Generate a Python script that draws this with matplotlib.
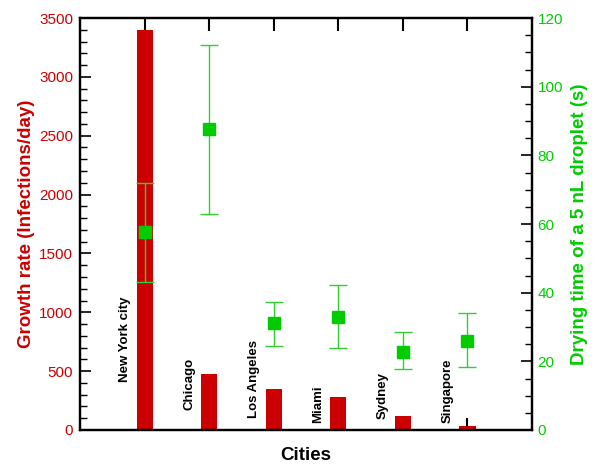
import matplotlib
matplotlib.use('Agg')
import matplotlib.pyplot as plt
import numpy as np
from matplotlib.ticker import MultipleLocator

plt.rcParams['font.family'] = ['Liberation Sans', 'DejaVu Sans']

cities = ['New York city', 'Chicago', 'Los Angeles', 'Miami', 'Sydney', 'Singapore']
growth = [3400, 478, 350, 282, 120, 35]
dry_time = [57.6, 87.6, 31.1, 32.8, 22.8, 26.0]
dry_low = [43.0, 63.0, 24.5, 23.8, 17.7, 18.4]
dry_high = [72.0, 112.0, 37.4, 42.1, 28.4, 34.0]
label_y = [408, 170, 102, 60, 93, 60]   # bottom of rotated city names (left axis units)

red = '#cc0000'
green = '#00cc00'

x = np.arange(1, len(cities) + 1)
dry_time = np.array(dry_time)
yerr = [dry_time - np.array(dry_low), np.array(dry_high) - dry_time]

fig = plt.figure(figsize=(5.98, 4.68), dpi=100)
ax = fig.add_axes([0.1338, 0.0812, 0.7559, 0.8803])

ax.bar(x, growth, width=0.25, color=red, zorder=2)
for xi, name, ly in zip(x, cities, label_y):
    ax.text(xi - 0.31, ly, name, rotation=90, ha='center', va='bottom',
            fontsize=9.5, fontweight='bold', color='black')

ax.set_xlim(0, 7)
ax.set_ylim(0, 3500)
ax.set_xticks(x)
ax.set_xticklabels([])
ax.yaxis.set_major_locator(MultipleLocator(500))
ax.yaxis.set_minor_locator(MultipleLocator(100))
ax.tick_params(axis='x', which='major', direction='in', length=9, width=1.5,
               top=True, bottom=True)
ax.tick_params(axis='y', which='major', direction='in', length=8, width=1.2,
               labelsize=11, labelcolor=red, pad=5)
ax.tick_params(axis='y', which='minor', direction='in', length=5, width=1)
for s in ax.spines.values():
    s.set_linewidth(1.6)

ax.set_xlabel('Cities', fontsize=13.5, fontweight='bold', labelpad=9)
ax.set_ylabel('Growth rate (Infections/day)', fontsize=13.5, fontweight='bold',
              color=red, labelpad=3)

ax2 = ax.twinx()
ax2.errorbar(x, dry_time, yerr=yerr, fmt='s', color=green, ecolor='#33cc33',
             markersize=8, elinewidth=1, capsize=6.5, capthick=1)
ax2.set_ylim(0, 120)
ax2.yaxis.set_major_locator(MultipleLocator(20))
ax2.yaxis.set_minor_locator(MultipleLocator(5))
ax2.tick_params(axis='y', which='major', direction='in', length=8, width=1.2,
                labelsize=11, labelcolor=green, pad=4)
ax2.tick_params(axis='y', which='minor', direction='in', length=5, width=1)
ax2.set_ylabel('Drying time of a 5 nL droplet (s)', fontsize=13.5,
               fontweight='bold', color=green, labelpad=6)
for s in ax2.spines.values():
    s.set_linewidth(1.6)

plt.savefig('out.png', dpi=100)
